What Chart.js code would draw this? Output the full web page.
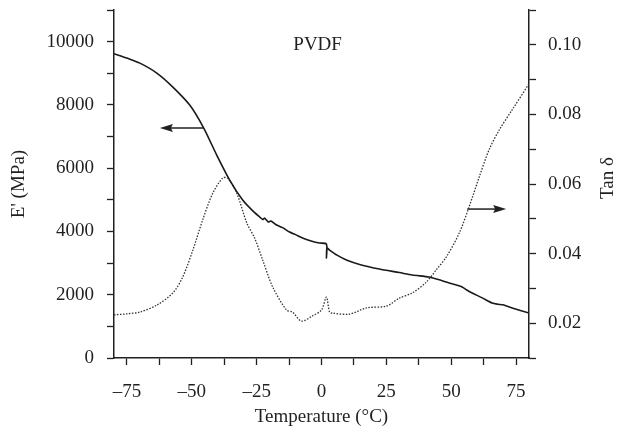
<!DOCTYPE html>
<html>
<head>
<meta charset="utf-8">
<script src="https://cdn.jsdelivr.net/npm/chart.js@4.4.1/dist/chart.umd.min.js"></script>
<style>
  html,body{margin:0;padding:0;background:#fff;}
  canvas{display:block;}
</style>
</head>
<body>
<canvas id="dmaChart" width="619" height="432"></canvas>
<script>
// storage modulus E' (MPa) vs temperature
const tempE=[-80,-75,-70,-63.5,-57.3,-50.8,-45.4,-40.4,-35.4,-30.4,-26.5,-23.8,-22.7,-21.9,-20.5,-19.5,-17.3,-15,-12.3,-10,-7.3,-4,-0.8,1.9,1.9,2.1,3.1,6,9.6,15,22.3,30,35,41.5,45,48.1,51,54.2,56,58.1,62,65.8,68,70,73.5,76,80];
const modulusE=[9620,9480,9320,9006,8564,7995,7268,6415,5625,4993,4650,4456,4380,4420,4300,4330,4203,4120,3982,3900,3792,3700,3634,3602,3160,3480,3413,3250,3097,2950,2812,2700,2623,2560,2480,2402,2330,2244,2150,2054,1900,1738,1700,1680,1580,1520,1422];

// tan delta vs temperature
const tempTan=[-80,-75,-70,-63.5,-57.3,-53.5,-49.6,-45.8,-41.9,-38.1,-36.2,-32.7,-28.8,-25.8,-22.7,-18.8,-13.5,-11.2,-7.7,-3.5,0,1.9,3.1,4.2,10.8,17.3,25,30,35,40.4,44.2,48.1,53.1,56.9,60.8,64.6,68.5,73.5,80];
const tanDelta=[0.0224,0.0227,0.0232,0.0252,0.0287,0.0333,0.0410,0.0497,0.0574,0.0617,0.0617,0.0574,0.0488,0.0445,0.0382,0.0304,0.0238,0.0232,0.0206,0.0221,0.0238,0.0275,0.0232,0.0229,0.0226,0.0244,0.0249,0.0272,0.0287,0.0318,0.0353,0.0390,0.0459,0.0534,0.0620,0.0698,0.0755,0.0813,0.0888];

// axis ticks
const xTicks=[-75,-62.5,-50,-37.5,-25,-12.5,0,12.5,25,37.5,50,62.5,75];
const xTickLabels=[-75,-50,-25,0,25,50,75];
const leftTicks=[0,1000,2000,3000,4000,5000,6000,7000,8000,9000,10000,11000];
const leftTickLabels=[0,2000,4000,6000,8000,10000];
const rightTicks=[0.01,0.02,0.03,0.04,0.05,0.06,0.07,0.08,0.09,0.10,0.11];
const rightTickLabels=[0.02,0.04,0.06,0.08,0.10];

// arrows: [fromT, toT, value, axis]
const arrowE=[-45.4,-62.3,7268,'y'];
const arrowTan=[56.2,71.2,0.0528,'y1'];
const sampleLabel=['PVDF',-1.5,9890];

const ink='#231f20';
const serif="'Liberation Serif', 'Times New Roman', serif";

const toPts=(xs,ys)=>xs.map((x,i)=>({x:x,y:ys[i]}));
const near=(a,b)=>Math.abs(a-b)<1e-6;

const extras={
  id:'extras',
  afterDraw(chart){
    const c=chart.ctx, sx=chart.scales.x;
    c.save();
    c.fillStyle=ink;
    c.strokeStyle=ink;
    // arrows
    [arrowE,arrowTan].forEach(a=>{
      const sc=chart.scales[a[3]];
      const x0=sx.getPixelForValue(a[0]), x1=sx.getPixelForValue(a[1]);
      const y=sc.getPixelForValue(a[2]);
      const dir=x1>x0?1:-1;
      c.lineWidth=1.5;
      c.beginPath();c.moveTo(x0,y);c.lineTo(x1-dir*8,y);c.stroke();
      c.beginPath();
      c.moveTo(x1,y);c.lineTo(x1-dir*13,y-4);c.lineTo(x1-dir*11,y);c.lineTo(x1-dir*13,y+4);
      c.closePath();c.fill();
    });
    // sample name
    c.font='19px '+serif;
    c.textAlign='center';c.textBaseline='middle';
    c.fillText(sampleLabel[0],sx.getPixelForValue(sampleLabel[1]),chart.scales.y.getPixelForValue(sampleLabel[2]));
    // right axis title
    const ry=chart.scales.y1;
    c.translate(608,(ry.top+ry.bottom)/2-6);
    c.rotate(-Math.PI/2);
    c.fillText('Tan δ',0,0);
    c.restore();
  }
};

const fixY=w=>s=>{s.width=w;s.paddingTop=0;s.paddingBottom=0;};

new Chart(document.getElementById('dmaChart').getContext('2d'),{
  type:'line',
  data:{
    datasets:[
      {label:"E'",data:toPts(tempE,modulusE),yAxisID:'y',borderColor:'#1a1a1a',borderWidth:1.6,pointRadius:0,tension:0.25,fill:false},
      {label:'Tan δ',data:toPts(tempTan,tanDelta),yAxisID:'y1',borderColor:'#333',borderWidth:1.3,borderDash:[1.5,1.5],pointRadius:0,tension:0.3,fill:false}
    ]
  },
  options:{
    responsive:false,
    animation:false,
    devicePixelRatio:1,
    layout:{padding:{top:10,left:0,right:0,bottom:0}},
    plugins:{legend:{display:false},tooltip:{enabled:false}},
    scales:{
      x:{
        type:'linear',min:-80,max:80,
        afterBuildTicks:s=>{s.ticks=xTicks.map(v=>({value:v}));},
        afterFit:s=>{s.height=74;s.paddingLeft=0;s.paddingRight=0;},
        border:{display:true,color:ink,width:1.5},
        grid:{drawOnChartArea:false,drawTicks:true,tickLength:7,tickColor:ink,tickWidth:1.3},
        ticks:{padding:16,color:ink,font:{family:serif,size:19},maxRotation:0,autoSkip:false,
          callback:v=>xTickLabels.some(t=>near(t,v))?(v<0?'–'+Math.abs(v):String(v)):''},
        title:{display:true,text:'Temperature (°C)',color:ink,font:{family:serif,size:19},padding:{top:0,bottom:4}}
      },
      y:{
        type:'linear',position:'left',min:0,max:11000,
        afterBuildTicks:s=>{s.ticks=leftTicks.map(v=>({value:v}));},
        afterFit:fixY(114),
        border:{display:true,color:ink,width:1.5},
        grid:{drawOnChartArea:false,drawTicks:true,tickLength:7,tickColor:ink,tickWidth:1.3},
        ticks:{padding:13,color:ink,font:{family:serif,size:19},autoSkip:false,
          callback:v=>leftTickLabels.some(t=>near(t,v))?String(v):''},
        title:{display:true,text:"E' (MPa)",color:ink,font:{family:serif,size:19},padding:{top:8,bottom:0}}
      },
      y1:{
        type:'linear',position:'right',min:0.01,max:0.11,
        afterBuildTicks:s=>{s.ticks=rightTicks.map(v=>({value:v}));},
        afterFit:fixY(90),
        border:{display:true,color:ink,width:1.5},
        grid:{drawOnChartArea:false,drawTicks:true,tickLength:7,tickColor:ink,tickWidth:1.3},
        ticks:{padding:12,color:ink,font:{family:serif,size:19},autoSkip:false,
          callback:v=>rightTickLabels.some(t=>near(t,v))?v.toFixed(2):''}
      }
    }
  },
  plugins:[extras]
});
</script>
</body>
</html>
